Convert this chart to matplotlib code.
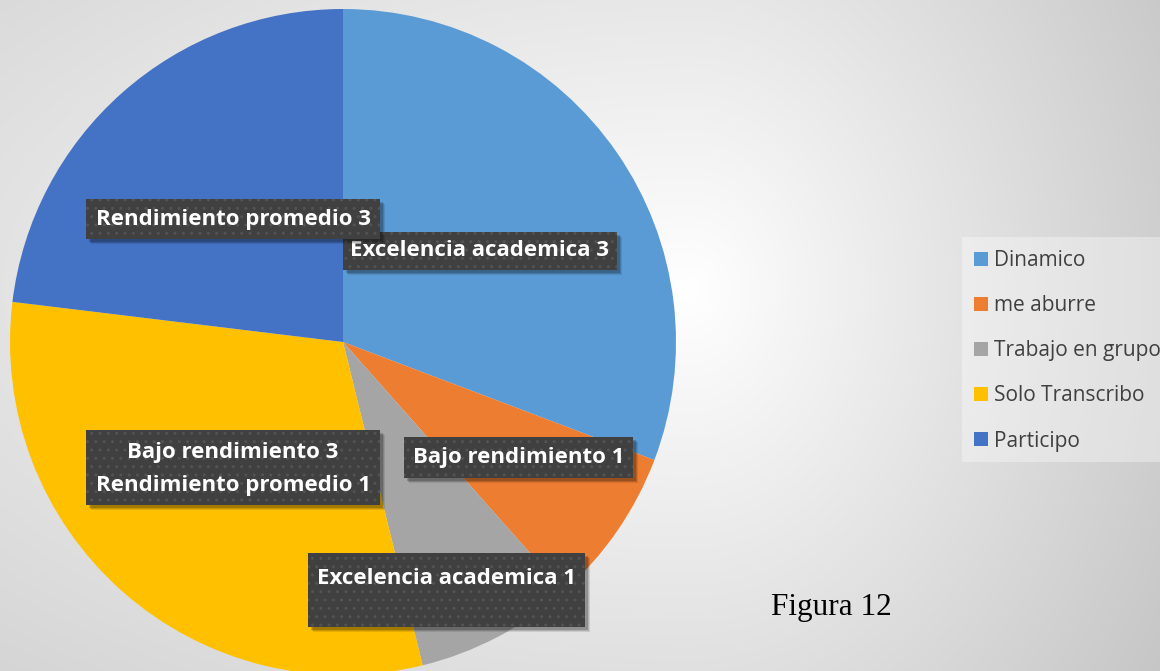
import numpy as np
import matplotlib
matplotlib.use("Agg")
import matplotlib.pyplot as plt
from matplotlib.patches import Rectangle, Patch

# ---------------- data ----------------
categories = ["Dinamico", "me aburre", "Trabajo en grupo", "Solo Transcribo", "Participo"]
values = [4, 1, 1, 4, 3]
slice_labels = [
    "Excelencia academica 3",
    "Bajo rendimiento 1",
    "Excelencia academica 1",
    "Bajo rendimiento 3\nRendimiento promedio 1",
    "Rendimiento promedio 3",
]
colors = ["#5B9BD5", "#ED7D31", "#A5A5A5", "#FFC000", "#4472C4"]
caption = "Figura 12"

W, H = 1160, 671
fig = plt.figure(figsize=(W / 100, H / 100), dpi=100)

# ---------------- background gradient ----------------
bg = fig.add_axes([0, 0, 1, 1], zorder=-10)
yy, xx = np.mgrid[0:H, 0:W]
cx, cy = 690.0, 290.0
dx = np.where(xx > cx, (xx - cx), (xx - cx) * 0.4)
dy = (yy - cy) * 0.8
d = np.sqrt(dx ** 2 + dy ** 2)
v = (255 - 57 * np.clip(d / 560.0, 0, 1)) / 255.0
img = np.dstack([v, v, v])
bg.imshow(img, extent=[0, W, H, 0], aspect="auto", interpolation="bilinear")
bg.set_xlim(0, W)
bg.set_ylim(H, 0)
bg.axis("off")

# ---------------- pie ----------------
pcx, pcy, R = 343, 342, 333
ax = fig.add_axes([(pcx - R) / W, 1 - (pcy + R) / H, 2 * R / W, 2 * R / H])
wedges, _ = ax.pie(values, colors=colors, startangle=90, counterclock=False,
                   radius=1, wedgeprops=dict(linewidth=0))
ax.set_xlim(-1, 1)
ax.set_ylim(-1, 1)
ax.set_aspect("equal")
ax.axis("off")
for w in wedges:
    w.set_clip_on(False)

# ---------------- data label boxes (pixel layout) ----------------
# (box left, top, width, height, text center y)
label_boxes = {
    0: (343, 232, 274, 38, 251),
    1: (404, 437, 229, 41, 457.5),
    2: (308, 553, 277, 74, 578),
    3: (86, 430, 294, 75, 469),
    4: (86, 199, 294, 40, 219),
}
draw_order = [0, 1, 2, 3, 4]
T = fig.transFigure
for z, i in enumerate(draw_order):
    x0, y0, bw, bh, ty = label_boxes[i]
    zb = 10 + z * 3
    for off, a in [(5, 0.10), (4, 0.13), (3, 0.18)]:
        fig.patches.append(Rectangle(((x0 + off) / W, 1 - (y0 + bh + off) / H), bw / W, bh / H,
                                     transform=T, facecolor="black", alpha=a,
                                     edgecolor="none", zorder=zb))
    fig.patches.append(Rectangle((x0 / W, 1 - (y0 + bh) / H), bw / W, bh / H,
                                 transform=T, facecolor="#404040", edgecolor="#535353",
                                 linewidth=0, hatch="..", zorder=zb + 1))
    fig.text((x0 + bw / 2) / W, 1 - ty / H, slice_labels[i], color="white",
             fontsize=16, fontweight="bold", family="Open Sans",
             ha="center", va="center", linespacing=1.75, zorder=zb + 2)

# ---------------- legend ----------------
fig.patches.append(Rectangle((962 / W, 1 - 462 / H), (W - 962) / W, 225 / H,
                             transform=T, facecolor="white", alpha=0.35,
                             edgecolor="none", zorder=5))
handles = [Patch(facecolor=c, edgecolor="none") for c in colors]
leg = fig.legend(handles, categories, loc="upper left",
                 bbox_to_anchor=(974 / W, 1 - 250 / H), frameon=False,
                 prop=dict(family="Open Sans", size=15), labelcolor="#404040",
                 handlelength=0.67, handleheight=0.67, handletextpad=0.3,
                 labelspacing=1.16, borderpad=0, borderaxespad=0)
leg.set_zorder(6)

# ---------------- caption ----------------
fig.text(831 / W, 1 - 608 / H, caption, family="Liberation Serif", fontsize=22.5,
         color="black", ha="center", va="center")

fig.savefig("out.png", dpi=100)
